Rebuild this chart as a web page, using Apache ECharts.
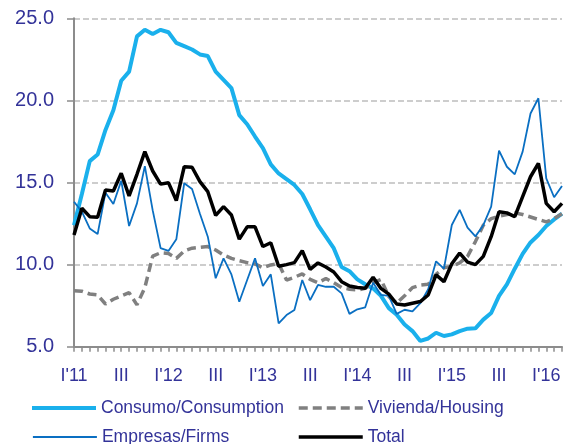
<!DOCTYPE html>
<html><head><meta charset="utf-8">
<script src="https://cdn.jsdelivr.net/npm/echarts@6/dist/echarts.min.js"></script>
<style>html,body{margin:0;padding:0;background:#fff}#c{width:565px;height:444px}</style>
</head><body><div id="c"></div>
<script>
// Monthly categories Jan 2011 .. Mar 2016
const months = [];
for (let y = 2011; y <= 2016; y++) {
  for (let m = 1; m <= 12; m++) {
    if (y === 2016 && m > 3) break;
    months.push(y + '-' + (m < 10 ? '0' + m : m));
  }
}
const tickLabels = ["I'11","III","I'12","III","I'13","III","I'14","III","I'15","III","I'16"];
const yTicks = [5, 10, 15, 20, 25];

const consumo = [12.4,14.3,16.3,16.7,18.2,19.4,21.2,21.75,23.9,24.3,24.05,24.3,24.15,23.5,23.3,23.1,22.8,22.7,21.75,21.25,20.75,19.1,18.55,17.8,17.1,16.1,15.55,15.2,14.85,14.3,13.37,12.4,11.7,11.0,9.85,9.6,9.1,8.8,8.55,8.1,7.35,6.95,6.35,5.95,5.35,5.5,5.85,5.65,5.75,5.95,6.1,6.12,6.65,7.05,8.1,8.8,9.75,10.65,11.35,11.8,12.35,12.75,13.1];
const vivienda = [8.41,8.38,8.21,8.15,7.6,7.89,8.09,8.29,7.55,8.6,10.52,10.72,10.68,10.38,10.83,11.0,11.05,11.1,10.89,10.58,10.38,10.24,10.12,10.04,9.81,9.98,10.06,9.06,9.23,9.43,9.1,8.9,9.15,8.9,8.6,8.5,8.45,8.55,8.9,9.1,8.05,7.65,8.1,8.6,8.75,8.8,9.4,9.8,9.9,10.1,10.5,11.4,12.4,12.8,12.95,13.05,13.15,13.05,12.9,12.75,12.6,12.8,13.1];
const empresas = [13.83,13.22,12.2,11.86,14.38,13.69,15.11,12.35,13.73,16.0,13.3,11.0,10.83,11.54,14.95,14.6,13.1,11.7,9.17,10.38,9.4,7.74,9.06,10.38,8.7,9.41,6.42,6.93,7.24,9.06,7.84,8.76,8.65,8.65,8.25,7.0,7.28,7.4,8.9,8.15,8.1,7.0,7.25,7.15,7.65,8.5,10.2,9.75,12.41,13.33,12.25,11.72,12.4,13.53,16.94,15.96,15.5,16.88,19.2,20.13,15.25,14.1,14.79];
const total = [11.8,13.43,12.92,12.88,14.54,14.48,15.56,14.18,15.5,16.88,15.7,14.9,14.99,13.9,15.96,15.93,15.05,14.44,13.0,13.53,13.02,11.55,12.3,12.3,11.1,11.33,9.9,10.0,10.12,10.85,9.71,10.1,9.85,9.55,8.96,8.7,8.6,8.56,9.23,8.55,8.2,7.6,7.54,7.65,7.75,8.15,9.37,8.96,10.05,10.7,10.15,10.0,10.5,11.7,13.22,13.15,12.92,14.14,15.35,16.17,13.73,13.22,13.73];

const names = ['Consumo/Consumption', 'Vivienda/Housing', 'Empresas/Firms', 'Total'];
const colors = ['#1AB0EC', '#808080', '#0A6FC2', '#000000'];
const widths = [4, 3.5, 1.8, 3.5];
const txtColor = '#333399';
const font = 'Liberation Sans, Arial, sans-serif';

const chart = echarts.init(document.getElementById('c'), null, {renderer: 'canvas'});
function legendAt(k, left, top) {
  return {
    data: [names[k]], left: left, top: top, orient: 'horizontal',
    itemWidth: 64, itemHeight: 12, padding: 0, selectedMode: false,
    itemStyle: {opacity: 0},
    lineStyle: {width: widths[k], color: colors[k], type: k === 1 ? [9, 5] : 'solid', opacity: 1},
    textStyle: {color: txtColor, fontSize: 17.5, fontFamily: font}
  };
}
chart.setOption({
  animation: false,
  backgroundColor: '#fff',
  grid: {left: 74, right: 3, top: 18.3, bottom: 97.3, containLabel: false},
  legend: [
    legendAt(0, 30, 399),
    legendAt(1, 297, 399),
    legendAt(2, 32, 428),
    legendAt(3, 297, 428)
  ],
  xAxis: {
    type: 'category', data: months, boundaryGap: false,
    axisLine: {lineStyle: {color: '#8c8c8c', width: 2}},
    axisTick: {show: true, interval: 0, length: 5, lineStyle: {color: '#8c8c8c', width: 1.5}},
    axisLabel: {
      interval: 5, margin: 20, color: txtColor, fontSize: 18, fontFamily: font,
      formatter: function (v, i) { return tickLabels[Math.round(i / 6)] || ''; }
    },
    splitLine: {show: false}
  },
  yAxis: {
    type: 'value', min: yTicks[0], max: yTicks[yTicks.length - 1], interval: 5,
    axisLine: {show: true, lineStyle: {color: '#8c8c8c', width: 2}},
    axisTick: {show: true, length: 7, lineStyle: {color: '#8c8c8c', width: 1.5}},
    axisLabel: {margin: 20, color: txtColor, fontSize: 20, fontFamily: font,
      formatter: function (v) { return v.toFixed(1); }},
    splitLine: {show: true, lineStyle: {color: '#bdbdbd', width: 1.5, type: [6, 3]}}
  },
  series: [
    {name: names[0], type: 'line', data: consumo, symbol: 'none',
     lineStyle: {color: colors[0], width: widths[0]}, itemStyle: {color: colors[0]}, z: 2},
    {name: names[1], type: 'line', data: vivienda, symbol: 'none',
     lineStyle: {color: colors[1], width: widths[1], type: [9, 5]}, itemStyle: {color: colors[1]}, z: 3},
    {name: names[2], type: 'line', data: empresas, symbol: 'none',
     lineStyle: {color: colors[2], width: widths[2]}, itemStyle: {color: colors[2]}, z: 4},
    {name: names[3], type: 'line', data: total, symbol: 'none',
     lineStyle: {color: colors[3], width: widths[3]}, itemStyle: {color: colors[3]}, z: 5}
  ]
});
</script>
</body></html>
